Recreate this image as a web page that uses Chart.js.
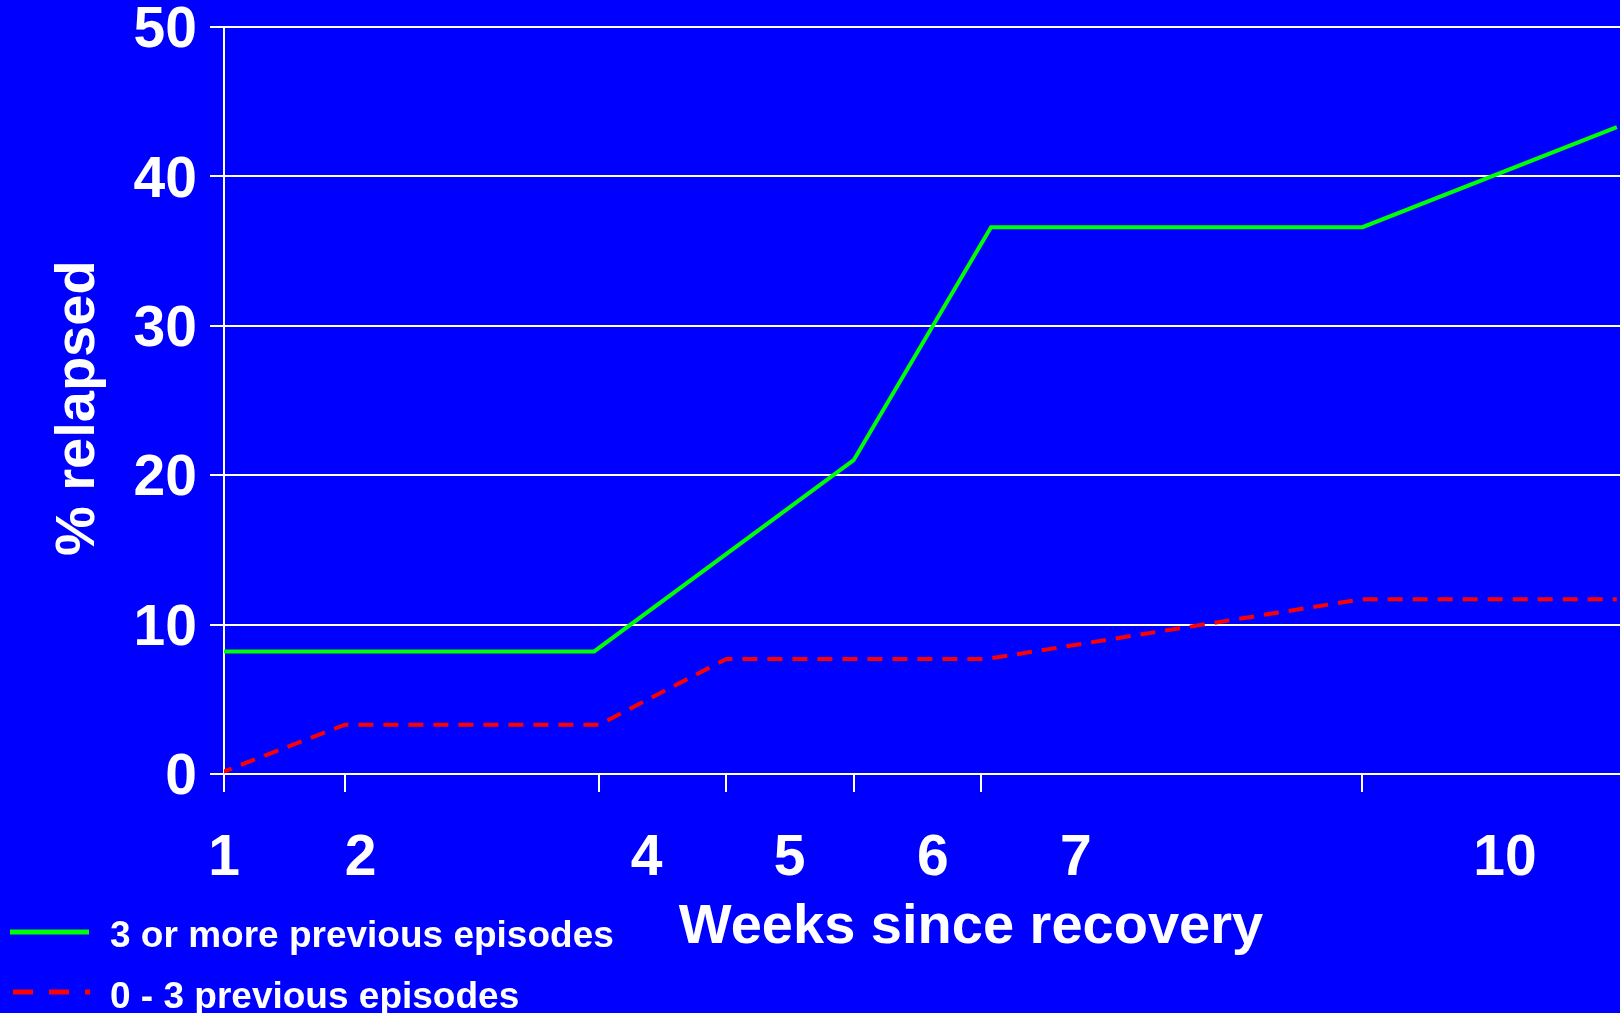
<!DOCTYPE html>
<html>
<head>
<meta charset="utf-8">
<script src="https://cdn.jsdelivr.net/npm/chart.js@4.4.1/dist/chart.umd.min.js"></script>
<style>
  html, body { margin: 0; padding: 0; background: #0000FF; overflow: hidden; width: 1620px; height: 1013px; }
  #wrap { position: absolute; left: 0; top: 0; width: 1718px; height: 1013px; }
  canvas { display: block; }
  .leg { position: absolute; left: 0; font-family: "Liberation Sans", Arial, sans-serif; font-weight: bold; font-size: 37px; line-height: 37px; color: #fff; white-space: nowrap; }
  .leg svg { position: absolute; left: 0; top: 0; overflow: visible; }
  .leg span { position: absolute; left: 110px; top: 0; }
</style>
</head>
<body>
<div id="wrap"><canvas id="c" width="1718" height="1013"></canvas></div>
<div class="leg" style="top:916px;">
  <svg width="100" height="37"><line x1="10" y1="16" x2="89" y2="16" stroke="#00FF00" stroke-width="5"/></svg>
  <span>3 or more previous episodes</span>
</div>
<div class="leg" style="top:977px;">
  <svg width="100" height="37"><line x1="13" y1="15" x2="90" y2="15" stroke="#FF0000" stroke-width="5" stroke-dasharray="20 16"/></svg>
  <span>0 - 3 previous episodes</span>
</div>
<script>
// ---- data ----
const weekTicks = [1, 2, 4, 5, 6, 7, 10];
const weekTickLabels = ['1', '2', '4', '5', '6', '7', '10'];
const yTicks = [0, 10, 20, 30, 40, 50];

const greenName = '3 or more previous episodes';
const greenWeeks = [1, 3.96, 6, 7.08, 10, 12];
const greenValues = [8.2, 8.2, 21.0, 36.6, 36.6, 43.3];

const redName = '0 - 3 previous episodes';
const redWeeks = [1, 2, 4, 5, 7.05, 10, 12];
const redValues = [0, 3.3, 3.3, 7.7, 7.7, 11.7, 11.7];

const xTitle = 'Weeks since recovery';
const yTitle = '% relapsed ';

// ---- chart ----
const FONT = '"Liberation Sans", Arial, sans-serif';
const WHITE = '#FFFFFF';
const toPts = (xs, ys) => xs.map((x, i) => ({ x: x, y: ys[i] }));
const clampTicks = s => { s.ticks = weekTicks.map(v => ({ value: Math.max(v, s.min) })); };

new Chart(document.getElementById('c'), {
  type: 'line',
  data: {
    datasets: [
      {
        label: greenName,
        data: toPts(greenWeeks, greenValues),
        borderColor: '#00FF00',
        borderWidth: 4,
        pointRadius: 0,
        tension: 0,
        xAxisID: 'x',
        yAxisID: 'y'
      },
      {
        label: redName,
        data: toPts(redWeeks, redValues),
        borderColor: '#FF0000',
        borderWidth: 4,
        borderDash: [15, 10],
        pointRadius: 0,
        tension: 0,
        xAxisID: 'x',
        yAxisID: 'y'
      }
    ]
  },
  options: {
    responsive: false,
    animation: false,
    devicePixelRatio: 1,
    layout: { padding: { top: 27, left: 0, right: 0, bottom: 0 } },
    plugins: { legend: { display: false }, tooltip: { enabled: false } },
    scales: {
      y: {
        type: 'linear',
        min: 0, max: 50,
        afterBuildTicks: s => { s.ticks = yTicks.map(v => ({ value: v })); },
        ticks: {
          color: WHITE,
          padding: 13,
          labelOffset: 4.5,
          font: { family: FONT, size: 57, weight: 'bold', lineHeight: 0.4 }
        },
        grid: { color: WHITE, lineWidth: 2, tickLength: 14, drawTicks: true },
        border: { color: WHITE, width: 2 },
        title: {
          display: true, text: yTitle, color: WHITE,
          font: { family: FONT, size: 56, weight: 'bold' },
          padding: { top: 45, bottom: 8.4 }
        }
      },
      x: {
        type: 'linear',
        position: 'bottom',
        weight: 0,
        min: 1.0503, max: 12.795,
        afterBuildTicks: clampTicks,
        ticks: { display: false },
        grid: { drawOnChartArea: false, color: WHITE, lineWidth: 2, tickLength: 18, drawTicks: true },
        border: { color: WHITE, width: 2 }
      },
      x2: {
        type: 'linear',
        position: 'bottom',
        weight: 1,
        min: 1.0454, max: 11.489,
        afterBuildTicks: clampTicks,
        ticks: {
          color: WHITE,
          padding: 33.3,
          autoSkip: false,
          maxRotation: 0,
          font: { family: FONT, size: 57, weight: 'bold' },
          callback: (v, i) => weekTickLabels[i]
        },
        grid: { display: false, drawTicks: false },
        border: { display: false },
        title: {
          display: true, text: xTitle, color: WHITE,
          font: { family: FONT, size: 56, weight: 'bold', lineHeight: 0.02 },
          padding: { top: 0, bottom: 84.94 }
        }
      }
    }
  }
});
</script>
</body>
</html>
